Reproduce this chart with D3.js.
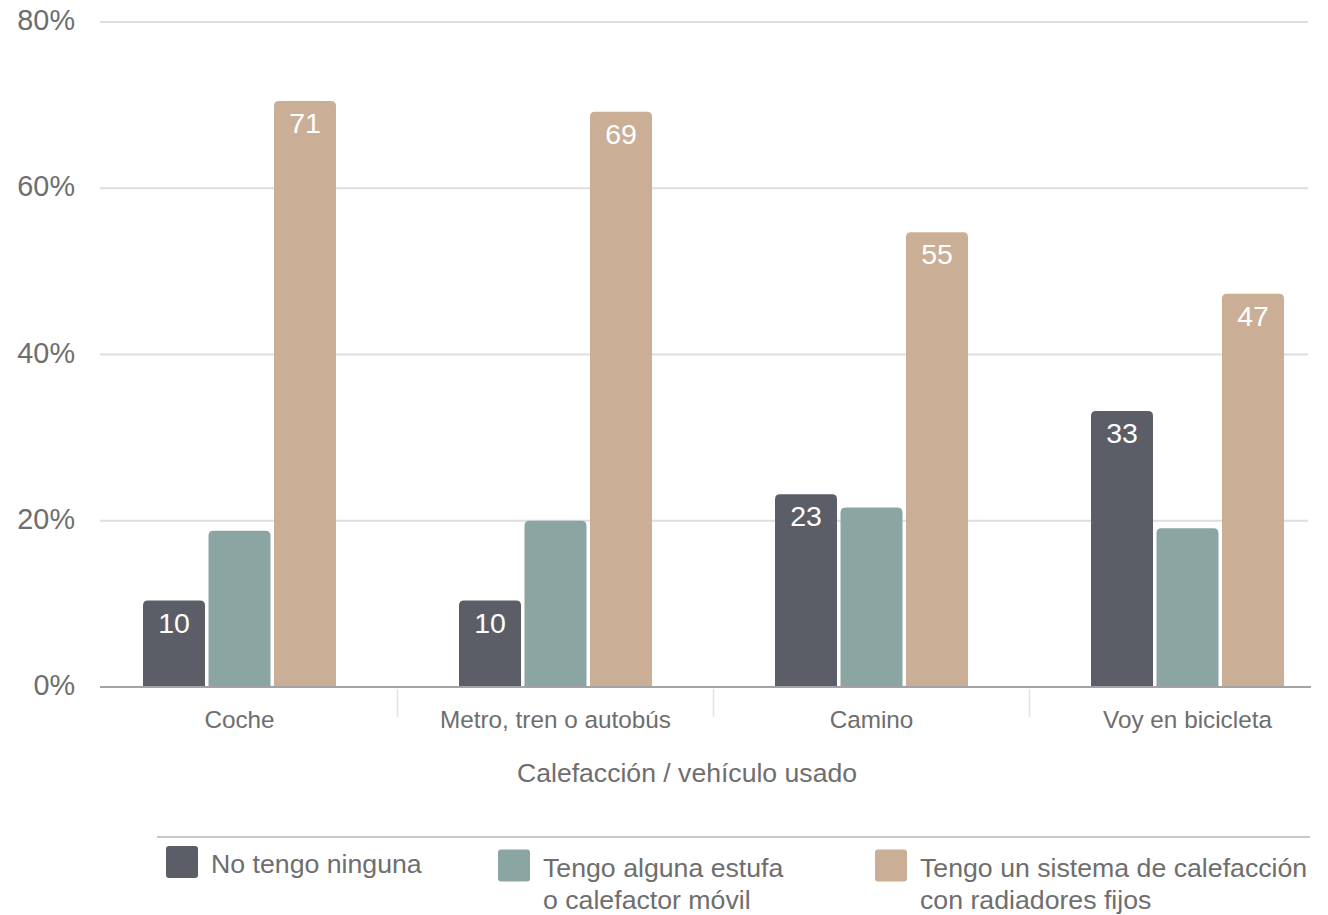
<!DOCTYPE html>
<html><head><meta charset="utf-8">
<script src="https://cdn.jsdelivr.net/npm/d3@7"></script>
<style>
html,body{margin:0;padding:0;background:#fff;}
svg{display:block;font-family:"Liberation Sans",Arial,Helvetica,sans-serif;}
</style></head>
<body>
<svg id="chart" width="1328" height="915"></svg>
<script>
const categories = ["Coche", "Metro, tren o autobús", "Camino", "Voy en bicicleta"];
const seriesNames = ["No tengo ninguna", "Tengo alguna estufa o calefactor móvil", "Tengo un sistema de calefacción con radiadores fijos"];
const legendLines = [["No tengo ninguna"], ["Tengo alguna estufa", "o calefactor móvil"], ["Tengo un sistema de calefacción", "con radiadores fijos"]];
const noneValues = [10.4, 10.4, 23.2, 33.2];
const stoveValues = [18.8, 20.0, 21.6, 19.1];
const radiatorValues = [70.5, 69.2, 54.7, 47.3];
const showLabels = [true, false, true];
const yTicks = [0, 20, 40, 60, 80];
const axisTitle = "Calefacción / vehículo usado";
const colors = ["#5b5e67", "#8ba6a2", "#cbae96"];

const seriesValues = [noneValues, stoveValues, radiatorValues];
const svg = d3.select("#chart");

const y = d3.scaleLinear().domain([0, 80]).range([687, 22]);
const x0 = d3.scaleBand().domain(categories).range([81.5, 1345.5]).paddingInner(0).paddingOuter(0);
const groupW = 193;
const x1 = d3.scaleBand().domain(d3.range(3)).range([x0.bandwidth()/2 - groupW/2, x0.bandwidth()/2 + groupW/2]).paddingInner(0.053).paddingOuter(0);

// gridlines
svg.append("g").selectAll("line").data(yTicks.filter(t => t > 0)).join("line")
  .attr("x1", 100).attr("x2", 1308)
  .attr("y1", d => y(d)).attr("y2", d => y(d))
  .attr("stroke", "#dedede").attr("stroke-width", 2);

// y labels
svg.append("g").selectAll("text").data(yTicks).join("text")
  .attr("x", 75).attr("y", d => y(d) + 8)
  .attr("text-anchor", "end").attr("font-size", 28.8).attr("fill", "#6e6e6e")
  .text(d => d + "%");

// bars
function topRounded(x, yTop, w, h, r) {
  r = Math.min(r, h, w/2);
  return `M${x},${yTop+h}V${yTop+r}Q${x},${yTop} ${x+r},${yTop}H${x+w-r}Q${x+w},${yTop} ${x+w},${yTop+r}V${yTop+h}Z`;
}
const groups = svg.append("g").selectAll("g").data(categories).join("g")
  .attr("transform", c => `translate(${x0(c)},0)`);
groups.each(function(c, ci) {
  const g = d3.select(this);
  seriesValues.forEach((vals, si) => {
    const v = vals[ci];
    const bx = x1(si), bw = x1.bandwidth();
    g.append("path")
      .attr("d", topRounded(bx, y(v), bw, y(0) - y(v), 5))
      .attr("fill", colors[si]);
    if (showLabels[si]) {
      g.append("text")
        .attr("x", bx + bw/2).attr("y", y(v) + 32)
        .attr("text-anchor", "middle").attr("font-size", 28.5).attr("fill", "#fff")
        .text(Math.round(v));
    }
  });
});

// x axis line
svg.append("line").attr("x1", 100).attr("x2", 1311).attr("y1", y(0)).attr("y2", y(0))
  .attr("stroke", "#a3a3a6").attr("stroke-width", 2);
// separators
svg.append("g").selectAll("line").data(categories.slice(1)).join("line")
  .attr("x1", c => x0(c)).attr("x2", c => x0(c))
  .attr("y1", y(0) + 2).attr("y2", y(0) + 30)
  .attr("stroke", "#e3e3e3").attr("stroke-width", 1.5);
// category labels
svg.append("g").selectAll("text").data(categories).join("text")
  .attr("x", c => x0(c) + x0.bandwidth()/2).attr("y", 728)
  .attr("text-anchor", "middle").attr("font-size", 24.3).attr("fill", "#6e6e6e")
  .text(c => c);
// axis title
svg.append("text").attr("x", 687).attr("y", 782).attr("text-anchor", "middle")
  .attr("font-size", 26.6).attr("fill", "#6e6e6e").text(axisTitle);

// legend
svg.append("line").attr("x1", 157).attr("x2", 1310).attr("y1", 837).attr("y2", 837)
  .attr("stroke", "#c8c8c8").attr("stroke-width", 2);
const legendX = [166, 498, 875];
const leg = svg.append("g").selectAll("g").data(seriesNames).join("g")
  .attr("transform", (d, i) => `translate(${legendX[i]},${legendLines[i].length > 1 ? 3.5 : 0})`);
leg.append("rect").attr("x", 0).attr("y", 846).attr("width", 32).attr("height", 32).attr("rx", 3)
  .attr("fill", (d, i) => colors[i]);
leg.each(function(d, i) {
  const t = d3.select(this).append("text").attr("font-size", 26.7).attr("fill", "#6e6e6e");
  legendLines[i].forEach((line, li) => {
    t.append("tspan").attr("x", 45).attr("y", 873 + li * 32).text(line);
  });
});
</script>
</body></html>
